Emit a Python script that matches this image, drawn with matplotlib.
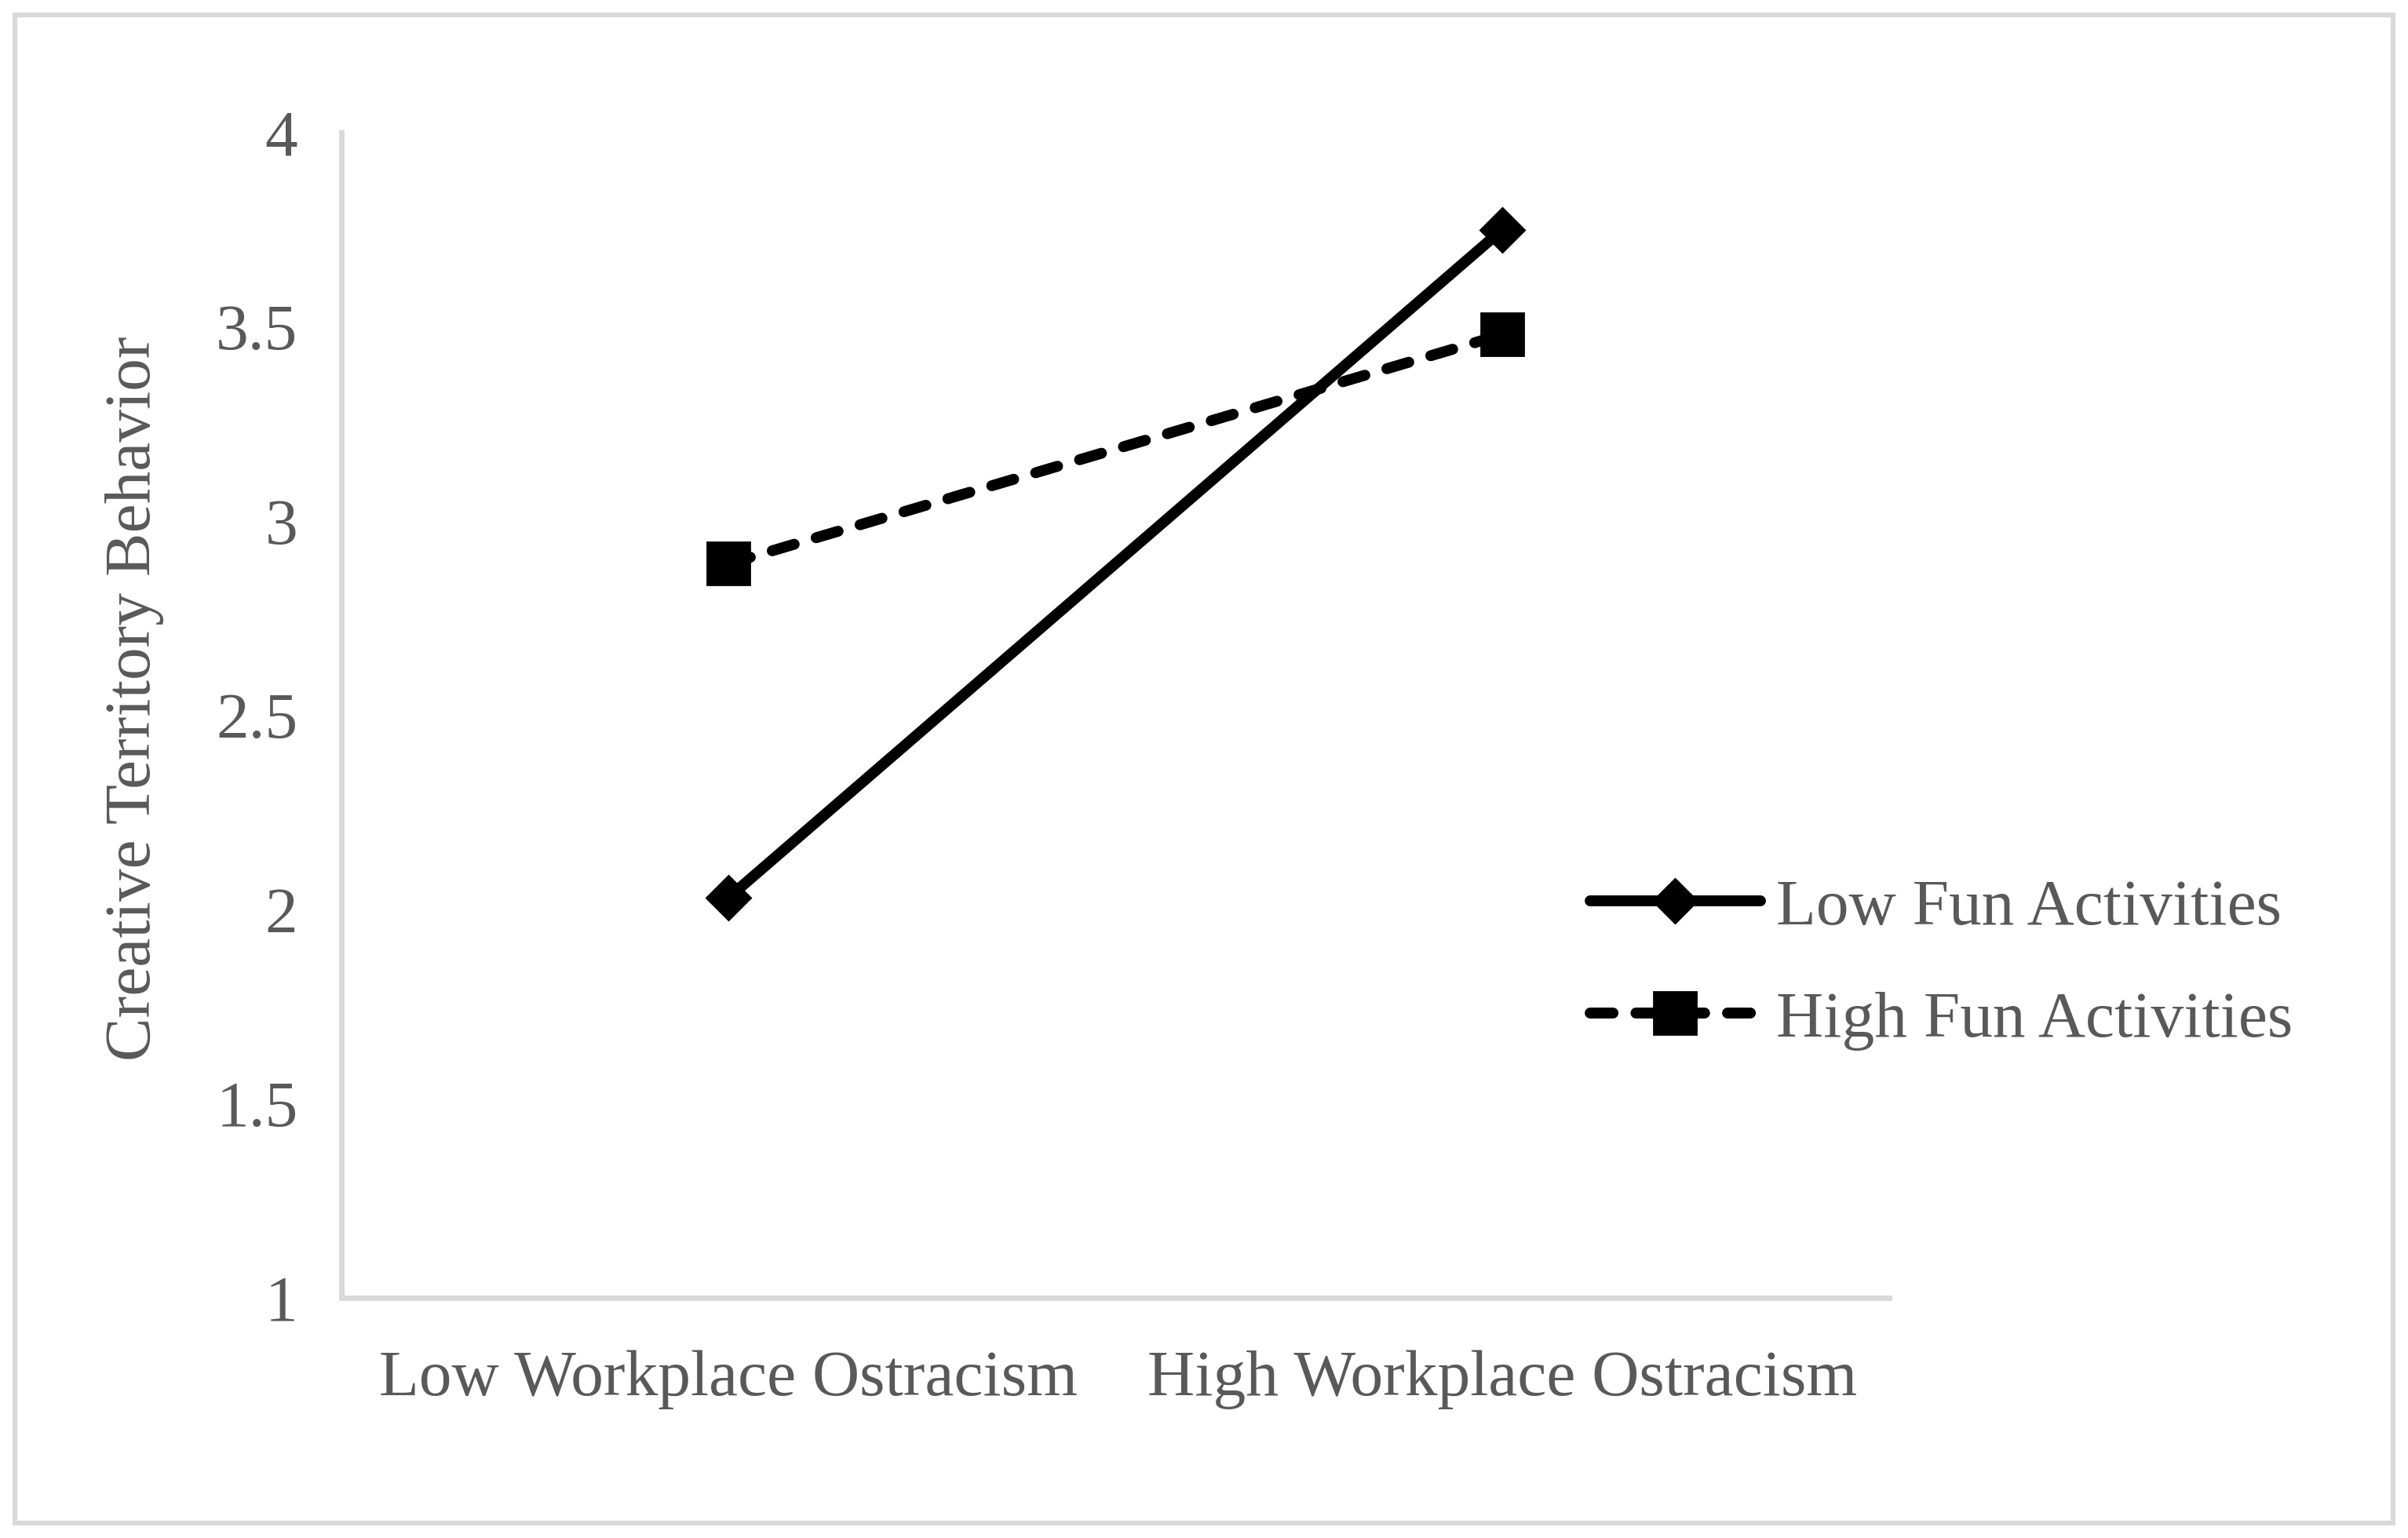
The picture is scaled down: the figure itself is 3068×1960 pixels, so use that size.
import matplotlib.pyplot as plt
from matplotlib.patches import Rectangle

plt.rcParams['font.family'] = ['Liberation Serif', 'DejaVu Serif']

categories = ["Low Workplace Ostracism", "High Workplace Ostracism"]
low_fun = [2.03, 3.75]
high_fun = [2.89, 3.48]
yticks = [1, 1.5, 2, 2.5, 3, 3.5, 4]

text_col = "#595959"
axis_col = "#d9d9d9"

fig = plt.figure(figsize=(15.34, 9.8), dpi=200)
ax = fig.add_axes([0.1418, 0.1561, 0.6427, 0.7577])

x = list(range(len(categories)))
ax.plot(x, low_fun, color="black", lw=5, marker="D", ms=14.5,
        solid_capstyle="round", label="Low Fun Activities")
ax.plot(x, high_fun, color="black", lw=5, marker="s", ms=19.5,
        dashes=(2.1, 2.1), dash_capstyle="round", label="High Fun Activities")

ax.set_xlim(-0.5, 1.5)
ax.set_ylim(1, 4)
ax.set_xticks(x)
ax.set_xticklabels(categories)
ax.set_yticks(yticks)
ax.set_yticklabels(["1", "1.5", "2", "2.5", "3", "3.5", "4"])
ax.tick_params(axis="both", length=0, labelsize=30, labelcolor=text_col)
ax.tick_params(axis="x", pad=24)
ax.tick_params(axis="y", pad=20)

for s in ["top", "right"]:
    ax.spines[s].set_visible(False)
for s in ["left", "bottom"]:
    ax.spines[s].set_color(axis_col)
    ax.spines[s].set_linewidth(2.5)

ax.set_ylabel("Creative Territory Behavior", fontsize=30, color=text_col, labelpad=24)
ax.yaxis.label.set_y(0.5145)

ax.legend(loc="center left", bbox_to_anchor=(0.6495, 0.373), bbox_transform=fig.transFigure,
          frameon=False, fontsize=30, labelcolor=text_col, handlelength=2.6,
          handletextpad=0.25, labelspacing=0.8, borderaxespad=0)

fig.patches.append(Rectangle((0.0062, 0.0097), 0.9876, 0.9806, transform=fig.transFigure,
                             fill=False, edgecolor=axis_col, lw=2.2))

fig.savefig("out.png", dpi=200)
